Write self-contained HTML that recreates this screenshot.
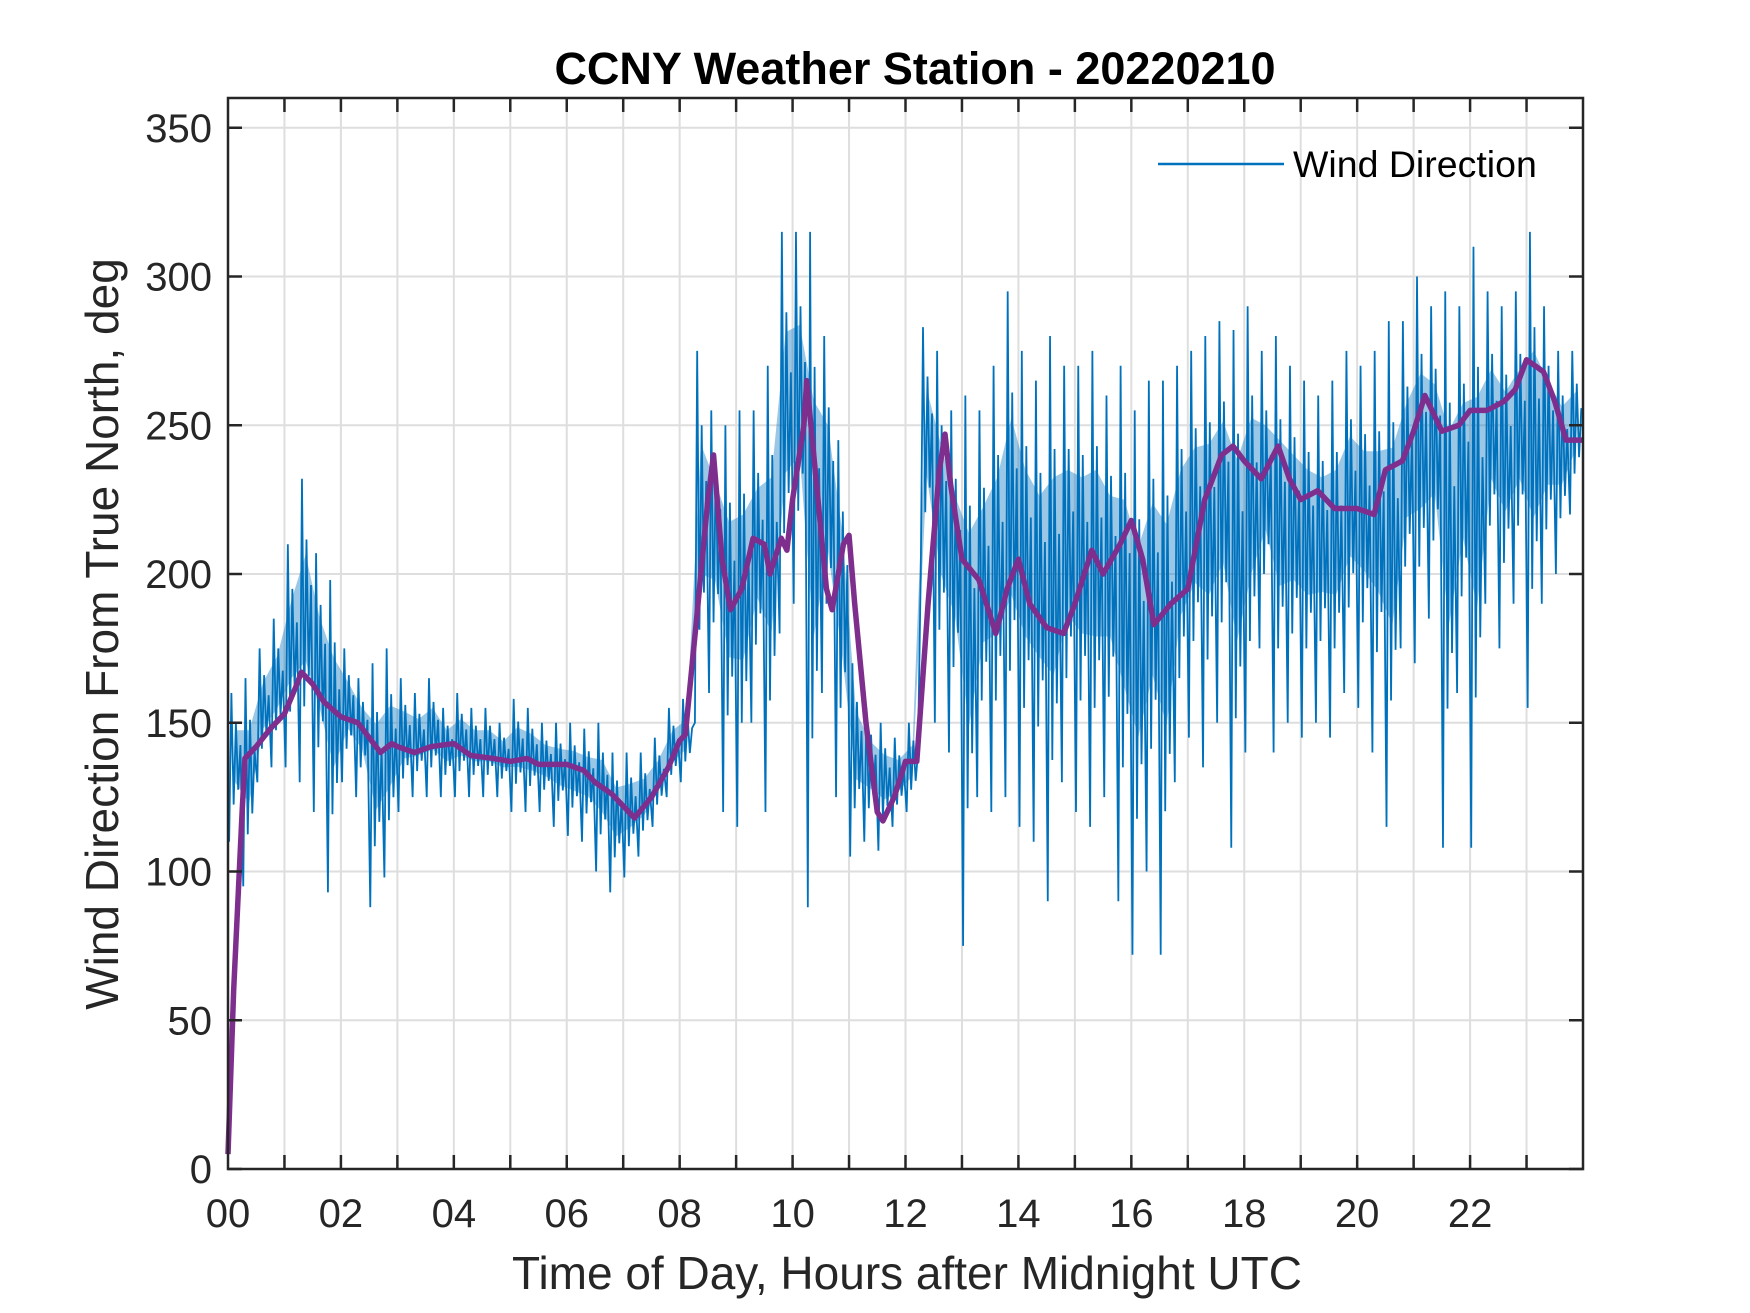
<!DOCTYPE html>
<html><head><meta charset="utf-8"><style>
html,body{margin:0;padding:0;background:#fff;}
svg{display:block;font-family:"Liberation Sans",Arial,sans-serif;}
</style></head><body>
<svg id="chart" width="1750" height="1313" viewBox="0 0 1750 1313" xmlns="http://www.w3.org/2000/svg">
<rect width="1750" height="1313" fill="#fff"/>
<g id="grid"></g>
<g id="series"></g>
<g id="axes"></g>
<text x="915" y="84" text-anchor="middle" font-size="45" font-weight="bold" fill="#000">CCNY Weather Station - 20220210</text>
<text x="907" y="1289" text-anchor="middle" font-size="46" fill="#262626">Time of Day, Hours after Midnight UTC</text>
<text transform="translate(118,634) rotate(-90)" text-anchor="middle" font-size="46" fill="#262626">Wind Direction From True North, deg</text>
<g>
<line x1="1158" y1="164" x2="1284" y2="164" stroke="#0072BD" stroke-width="2.5"/>
<text x="1293" y="177" font-size="37.5" fill="#000">Wind Direction</text>
</g>
</svg>
<script>
// Blue raw series summarised as low/high per 15-minute bin (96 bins)
const bandLow = [110,95,130,135,135,130,120,93,130,125,88,98,120,125,125,125,125,125,125,125,120,120,120,115,112,110,100,93,98,105,115,125,130,150,160,120,115,150,120,180,190,88,160,125,105,110,107,115,120,200,150,140,75,125,120,125,115,110,90,130,120,115,125,90,72,100,72,130,145,135,150,108,140,175,140,150,145,150,145,160,155,140,115,175,170,185,108,160,108,190,175,190,155,190,200,220];
const bandHigh = [160,165,175,185,210,232,207,198,175,165,170,175,165,160,165,155,160,155,155,150,158,155,150,150,150,148,150,140,140,140,145,155,158,275,255,250,255,255,270,315,315,315,280,245,170,155,150,145,150,283,275,255,260,255,270,295,275,265,280,270,270,275,260,270,255,265,265,270,275,280,285,282,290,275,280,270,265,260,265,275,270,275,285,285,300,290,295,290,310,295,290,295,315,290,275,275];
// Purple smoothed series: hours and degrees
const smoothHours = [0,0.1,0.25,0.3,0.5,0.75,1.0,1.2,1.3,1.5,1.7,2.0,2.3,2.5,2.7,2.9,3.0,3.3,3.6,4.0,4.3,4.7,5.0,5.3,5.5,6.0,6.3,6.5,6.8,7.0,7.2,7.5,7.8,8.0,8.1,8.3,8.5,8.6,8.75,8.9,9.1,9.3,9.5,9.6,9.8,9.9,10.0,10.2,10.25,10.4,10.6,10.7,10.9,11.0,11.1,11.3,11.5,11.6,11.8,12.0,12.2,12.4,12.6,12.7,12.8,13.0,13.3,13.6,13.8,14.0,14.2,14.5,14.8,15.0,15.3,15.5,15.8,16.0,16.2,16.4,16.7,17.0,17.3,17.6,17.8,18.0,18.3,18.6,18.8,19.0,19.3,19.6,20.0,20.3,20.5,20.8,21.0,21.2,21.5,21.8,22.0,22.3,22.6,22.8,23.0,23.3,23.5,23.7,24.0];
const smoothDeg = [5,60,120,138,142,148,153,162,167,163,157,152,150,145,140,143,142,140,142,143,139,138,137,138,136,136,134,130,126,122,118,125,135,144,146,185,225,240,205,188,195,212,210,200,212,208,225,250,265,235,195,188,210,213,190,150,120,117,125,137,137,190,235,247,230,205,198,180,195,205,190,182,180,190,208,200,210,218,205,183,190,195,225,240,243,238,232,243,232,225,228,222,222,220,235,238,248,260,248,250,255,255,258,262,272,268,258,245,245];
const xTicks = [0,2,4,6,8,10,12,14,16,18,20,22];
const xTickLabels = ["00","02","04","06","08","10","12","14","16","18","20","22"];
const yTicks = [0,50,100,150,200,250,300,350];

const L=228,R=1583,T=98,B=1169, XMAX=24, YMAX=360;
const xs = h => L + (R-L)*h/XMAX;
const ys = d => B - (B-T)*d/YMAX;
const NS="http://www.w3.org/2000/svg";
function mk(tag, attrs, parent){const e=document.createElementNS(NS,tag);for(const k in attrs)e.setAttribute(k,attrs[k]);parent.appendChild(e);return e;}
const grid=document.getElementById('grid'), axes=document.getElementById('axes'), series=document.getElementById('series');

for(let h=1;h<24;h++){
  const g=mk('line',{x1:xs(h),x2:xs(h),y1:T,y2:B,stroke:'#dedede','stroke-width':2},grid);
  
  
}
yTicks.forEach(v=>{ if(v===0)return;
  const g=mk('line',{x1:L,x2:R,y1:ys(v),y2:ys(v),stroke:'#dedede','stroke-width':2},grid);
  
  
});

// blue band
const binW = 0.25;
let pts=[];
for(let i=0;i<bandLow.length;i++){
  const lo=bandLow[i], hi=bandHigh[i], mid=(lo+hi)/2;
  pts.push(xs(i*binW+0.02)+','+ys(lo));
  pts.push(xs(i*binW+0.06)+','+ys(hi));
  pts.push(xs(i*binW+0.10)+','+ys(mid-(hi-lo)*0.25));
  pts.push(xs(i*binW+0.14)+','+ys(mid+(hi-lo)*0.3));
  pts.push(xs(i*binW+0.18)+','+ys(mid-(hi-lo)*0.15));
  pts.push(xs(i*binW+0.22)+','+ys(mid+(hi-lo)*0.15));
}
let poly=[];
for(let i=0;i<bandLow.length;i++){const v=bandLow[i]*0.6+bandHigh[i]*0.4;poly.push(xs((i+0.5)*binW)+','+ys(v));}
for(let i=bandLow.length-1;i>=0;i--){const v=bandLow[i]*0.25+bandHigh[i]*0.75;poly.push(xs((i+0.5)*binW)+','+ys(v));}
const band=mk('polygon',{points:poly.join(' '),fill:'#0072BD','fill-opacity':0.4},series);


const raw=mk('polyline',{points:pts.join(' '),fill:'none',stroke:'#0072BD','stroke-width':1.8},series);



const sm=mk('polyline',{points:smoothHours.map((h,i)=>xs(h)+','+ys(smoothDeg[i])).join(' '),fill:'none',stroke:'#7E2F8E','stroke-width':5.5,'stroke-linejoin':'round'},series);



// axes box
const box=mk('rect',{x:L,y:T,width:R-L,height:B-T,fill:'none',stroke:'#262626','stroke-width':2.5},axes);


for(let h=1;h<24;h++){
  const t1=mk('line',{x1:xs(h),x2:xs(h),y1:B,y2:B-14,stroke:'#262626','stroke-width':2.5},axes);
  
  
  const t2=mk('line',{x1:xs(h),x2:xs(h),y1:T,y2:T+14,stroke:'#262626','stroke-width':2.5},axes);
  
  
}
xTicks.forEach((v,i)=>{
  const t=mk('text',{x:xs(v),y:1227,'text-anchor':'middle','font-size':40,fill:'#262626'},axes);
  t.textContent=xTickLabels[i];
  
  
});
yTicks.forEach(v=>{
  const a=mk('line',{x1:L,x2:L+14,y1:ys(v),y2:ys(v),stroke:'#262626','stroke-width':2.5},axes);
  
  
  const b=mk('line',{x1:R,x2:R-14,y1:ys(v),y2:ys(v),stroke:'#262626','stroke-width':2.5},axes);
  
  
  const t=mk('text',{x:212,y:ys(v)+14,'text-anchor':'end','font-size':40,fill:'#262626'},axes);
  t.textContent=String(v);
  
  
});
</script>
</body></html>
